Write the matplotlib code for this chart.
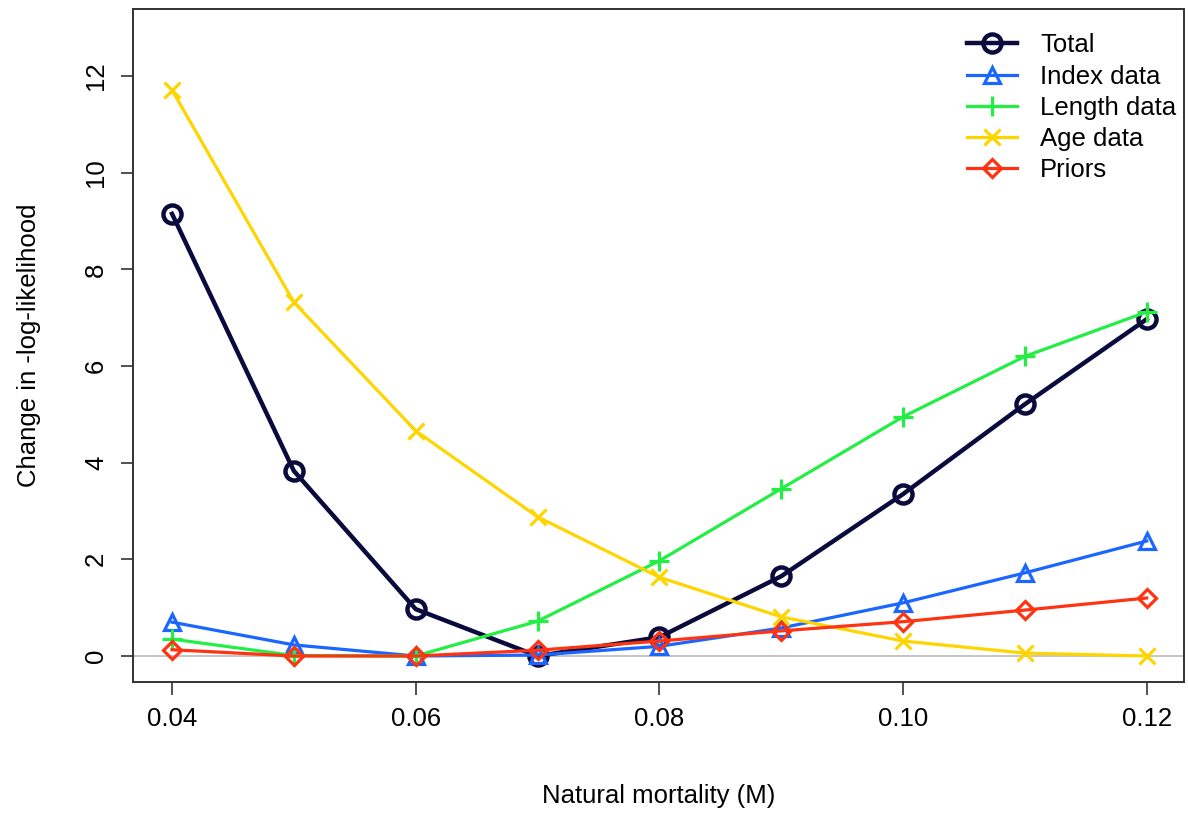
import matplotlib
matplotlib.use('Agg')
import matplotlib.pyplot as plt

plt.rcParams['font.family'] = ['Liberation Sans', 'DejaVu Sans']

M = [0.04, 0.05, 0.06, 0.07, 0.08, 0.09, 0.10, 0.11, 0.12]
total = [9.15, 3.83, 0.97, 0.0, 0.39, 1.65, 3.35, 5.21, 6.97]
index_data = [0.70, 0.23, 0.0, 0.02, 0.20, 0.58, 1.10, 1.72, 2.38]
length_data = [0.35, 0.01, 0.0, 0.72, 1.97, 3.46, 4.95, 6.20, 7.12]
age_data = [11.71, 7.32, 4.66, 2.88, 1.63, 0.81, 0.31, 0.06, 0.0]
priors = [0.13, 0.0, 0.0, 0.12, 0.31, 0.52, 0.71, 0.95, 1.20]

fig = plt.figure(figsize=(11.88, 8.13), dpi=100)
ax = fig.add_axes([0.112, 0.161, 0.885, 0.828])

ax.axhline(0, color='#bbbbbb', lw=1.2, zorder=0)

ax.plot(M, total, color='#0a0a3c', lw=3.2, marker='o', ms=13, mfc='none', mew=3.2, label='Total')
ax.plot(M, index_data, color='#1a66ff', lw=2.3, marker='^', ms=11, mfc='none', mew=2.3, label='Index data')
ax.plot(M, length_data, color='#22ee44', lw=2.3, marker='+', ms=15, mew=2.3, label='Length data')
ax.plot(M, age_data, color='#ffd500', lw=2.3, marker='x', ms=11, mew=2.3, label='Age data')
ax.plot(M, priors, color='#ff3311', lw=2.3, marker='D', ms=9, mfc='none', mew=2.3, label='Priors')

ax.set_xlim(0.0368, 0.1231)
ax.set_ylim(-0.54, 13.39)
ax.set_xticks([0.04, 0.06, 0.08, 0.10, 0.12])
ax.set_xticklabels(['0.04', '0.06', '0.08', '0.10', '0.12'])
ax.set_yticks([0, 2, 4, 6, 8, 10, 12])
ax.tick_params(labelsize=18.5, length=9, width=1.2, direction='out', pad=9, color='#333333')
for lab in ax.get_yticklabels():
    lab.set_rotation(90)
    lab.set_va('center')
for s in ax.spines.values():
    s.set_linewidth(1.4)
    s.set_color('#333333')

ax.set_xlabel('Natural mortality (M)', fontsize=18.5, labelpad=38)
ax.set_ylabel('Change in -log-likelihood', fontsize=18.5, labelpad=31)

ax.legend(loc='upper right', bbox_to_anchor=(1.014, 0.998), frameon=False, fontsize=18.5,
          handlelength=1.95, labelspacing=0.28, handletextpad=0.9)

fig.savefig('out.png', dpi=100)
